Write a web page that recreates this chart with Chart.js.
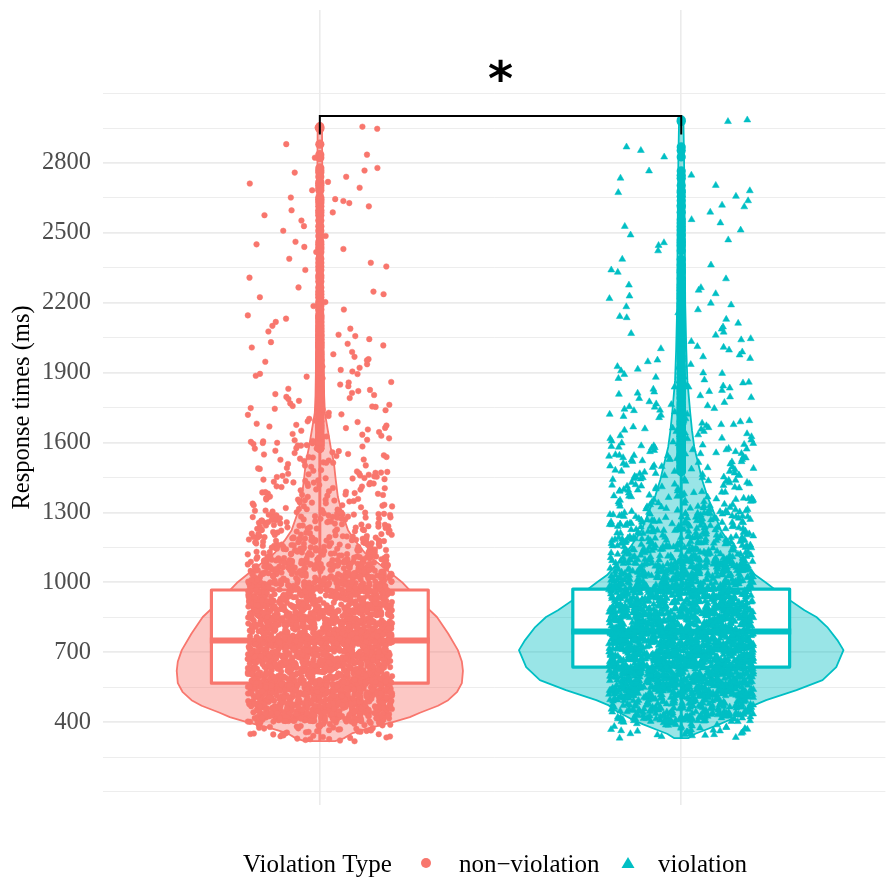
<!DOCTYPE html>
<html>
<head>
<meta charset="utf-8">
<title>Response times by violation type</title>
<script src="https://cdn.jsdelivr.net/npm/chart.js@4.4.1/dist/chart.umd.min.js"></script>
<style>
  html, body { margin: 0; padding: 0; background: #fff; }
  canvas { display: block; }
</style>
</head>
<body>
<canvas id="rtChart" width="890" height="879"></canvas>
<script>
// Categories and colours
const groupNames = ["non\u2212violation", "violation"];
const groupColors = ["#F8766D", "#00BFC4"];
const legendTitle = "Violation Type";

// Y axis labels (ms)
const yTickLabels = [400, 700, 1000, 1300, 1600, 1900, 2200, 2500, 2800];

// Response times (ms), non-violation trials
const nonViolationRT = [
  318, 327, 341, 355, 362, 371, 384, 392, 336, 349, 377, 398, 323, 366, 381, 358, 345, 389, 332, 374, 396, 351, 368, 386, 339, 360, 379, 394, 347, 329, 365, 383, 356, 391, 372,
  321, 334, 343, 352, 359, 364, 369, 376, 380, 387, 393, 397, 326, 338, 348, 361, 373, 385, 390, 399,
  412, 447, 431, 486, 463, 405, 472, 439, 495, 421, 458, 481, 444, 467, 409, 453, 428, 490, 436, 476, 415, 462, 499, 442, 484, 425,
  455, 403, 470, 433, 488, 449, 418, 479, 460, 437, 494, 411, 466, 441, 483, 426, 457, 407, 474, 491, 434, 468, 419, 452, 486, 446,
  478, 413, 461, 438, 497, 429, 471, 450, 404, 485, 443, 465, 422, 489, 456, 432, 475, 410, 448, 493, 427, 464, 440, 482, 416, 459,
  435, 477, 401, 469, 445, 496, 424, 454, 487, 430, 473, 408, 451, 492, 417, 463, 439, 480, 406, 457, 434, 498, 421, 468, 445, 476,
  414, 453, 487, 428, 466, 402, 441, 479, 458, 433, 495, 420, 462, 474, 447, 411, 489, 436, 470, 455, 425, 484, 443, 418, 461, 493,
  404, 419, 437, 452, 468, 483, 499, 411, 426, 444, 459, 475, 490, 407, 422, 440, 455, 471, 486, 414, 429, 447, 462, 478, 493, 401,
  417, 433, 449, 465, 481, 496, 409, 424, 439, 457, 473, 488, 403, 418, 435, 451, 467, 482, 498, 412, 427, 443, 458, 474, 489, 405,
  421, 436, 453, 469, 484, 400, 416, 431, 446, 461, 477, 492, 408, 423, 438, 454, 470, 485, 402, 419, 434, 450, 466, 480, 495, 410,
  425, 441, 456, 472, 487, 406, 420, 437, 448, 463, 479, 494, 413, 428, 442, 459, 476, 491, 404, 415, 432, 447, 464, 481, 497, 409,
  426, 439, 455, 468, 483, 499, 411, 424, 440, 457, 471, 486, 402, 418, 433, 451, 465, 480, 494, 407, 422, 436, 449, 462, 478, 490,
  414, 430, 445, 460, 475, 488, 405, 420, 435, 452,
  416, 483, 437, 462, 405, 491, 428, 455, 472, 443, 419, 497, 433, 468, 410, 486, 451, 424, 479, 440, 463, 402, 495, 431, 457, 474, 447, 414, 488, 421,
  466, 438, 493, 406, 459, 476, 427, 449, 481, 412, 470, 435, 498, 453, 418, 484, 442, 461, 425, 490, 408, 477, 445, 467, 430, 494, 415, 458, 473, 439,
  512, 547, 583, 531, 566, 504, 592, 525, 558, 539, 576, 517, 595, 543, 569, 521, 586, 553, 508, 574, 537, 599, 562, 529, 581, 546, 513, 590, 557, 535,
  578, 503, 564, 541, 597, 526, 552, 584, 518, 571, 549, 509, 588, 533, 560, 545, 579, 515, 594, 538, 567, 522, 555, 586, 501, 573, 548, 530, 592, 564,
  527, 563, 598, 511, 544, 577, 535, 556, 519, 589, 542, 506, 570, 551, 583, 596, 534, 559, 523, 582, 547, 514, 575, 539, 561, 502, 587, 528, 553, 568,
  540, 572, 507, 591, 555, 524, 580, 536, 565, 516, 599, 549, 531, 576, 510, 584, 520, 558, 543, 593, 505, 569, 537, 552, 578, 526, 590, 545, 517, 563,
  550, 587, 532, 566, 500, 579, 541, 557, 521, 595, 535, 571, 513, 548, 582, 529, 560, 594, 518, 546, 574, 504, 561, 539, 589, 525, 554, 577, 533, 597,
  506, 523, 541, 558, 575, 592, 511, 529, 546, 563, 580, 597, 503, 520, 537, 554, 571, 588, 514, 531, 549, 566, 583, 500, 517, 534, 552, 569, 586, 509,
  526, 543, 560, 577, 594, 505, 522, 540, 557, 574, 591, 512, 528, 545, 562, 579, 596, 502, 519, 536, 553, 570, 587, 508, 525, 542, 559, 576, 593, 515,
  532, 548, 565, 582, 599, 504, 521, 538, 555, 572, 589, 510, 527, 544, 561, 578, 595, 501, 518, 535, 551, 568, 585, 507, 524, 541, 558, 574, 591, 513,
  530, 547, 564, 581, 598, 503, 520, 537, 553, 570, 587, 509, 526, 543, 560, 577, 594, 505, 522, 539, 556, 573, 590, 511, 528, 545, 562, 579, 596, 502,
  519, 536, 552, 569, 586, 508, 525, 542, 559, 575, 592, 514, 531, 548, 565, 582, 599, 504, 521, 538, 554, 571, 588, 510, 527, 544, 561, 578, 595, 500,
  517, 534, 551, 568, 585, 506, 523, 540, 557, 574,
  517, 584, 538, 563, 506, 592, 529, 556, 573, 544, 520, 598, 534, 569, 511, 587, 552, 525, 580, 541, 564, 503, 596, 532, 558, 575, 548, 515, 589, 522,
  567, 539, 594, 507, 560, 577, 528, 550, 582, 513, 571, 536, 599, 554, 519, 585, 543, 562, 526, 591, 509, 578, 546, 568, 531, 595, 516, 559, 574, 540,
  502, 588, 535, 566, 524, 581, 549, 512, 597, 557, 530, 572, 545, 505, 590, 561, 537, 583, 518, 553,
  613, 648, 685, 632, 669, 605, 694, 627, 659, 641, 677, 618, 697, 644, 671, 622, 688, 655, 609, 676, 638, 699, 663, 630, 683, 647, 614, 692, 658, 636,
  679, 604, 666, 642, 698, 628, 653, 686, 619, 672, 650, 610, 689, 634, 662, 646, 681, 616, 695, 639, 668, 623, 656, 687, 602, 674, 649, 631, 693, 665,
  628, 664, 699, 612, 645, 678, 636, 657, 620, 690, 643, 607, 671, 652, 684, 697, 635, 660, 624, 683, 648, 615, 676, 640, 662, 603, 688, 629, 654, 669,
  641, 673, 608, 692, 656, 625, 681, 637, 666, 617, 700, 650, 632, 677, 611, 685, 621, 659, 644, 694, 606, 670, 638, 653, 679, 627, 691, 646, 618, 664,
  651, 688, 633, 667, 601, 680, 642, 658, 622, 696, 636, 672, 614, 649, 683, 630, 661, 695, 619, 647, 675, 605, 663, 640, 690, 626, 655, 678, 634, 698,
  603, 619, 636, 654, 671, 688, 608, 625, 642, 659, 676, 693, 601, 617, 634, 651, 668, 685, 612, 629, 646, 663, 680, 697, 605, 622, 639, 656, 673, 690,
  610, 627, 644, 661, 678, 695, 602, 618, 635, 652, 669, 686, 607, 624, 641, 658, 675, 692, 614, 631, 648, 665, 682, 699, 604, 620, 637, 653, 670, 687,
  609, 626, 643, 660, 677, 694, 600, 616, 633, 650, 667, 684, 611, 628, 645, 662, 679, 696, 606, 623, 640, 657, 674, 691, 613, 630, 647, 664, 681, 698,
  603, 619, 636, 652, 669, 686, 608, 625, 642, 659, 676, 693, 601, 618, 635, 651, 668, 685, 612, 629, 646, 663, 680, 697, 605, 621, 638, 655, 672, 689,
  610, 627, 644, 661, 678, 695, 602, 617, 634, 650, 667, 684, 607, 624, 641, 658, 675, 692, 614, 631, 648, 664, 681, 698, 604, 620, 637, 654, 671, 688,
  609, 626, 643, 660, 677, 694, 600, 616, 633, 649,
  618, 685, 639, 664, 607, 693, 630, 657, 674, 645, 621, 699, 635, 670, 612, 688, 653, 626, 681, 642, 665, 604, 697, 633, 659, 676, 649, 616, 690, 623,
  668, 640, 695, 608, 661, 678, 629, 651, 683, 614, 672, 637, 700, 655, 620, 686, 644, 663, 627, 692, 610, 679, 647, 669, 632, 696, 617, 660, 675, 641,
  603, 689, 636, 667, 625, 682, 650, 613, 698, 658, 631, 673, 646, 606, 691, 662, 638, 684, 619, 654,
  714, 749, 786, 733, 770, 706, 795, 728, 760, 742, 778, 719, 798, 745, 772, 723, 789, 756, 710, 777, 739, 800, 764, 731, 784, 748, 715, 793, 759, 737,
  780, 705, 767, 743, 799, 729, 754, 787, 720, 773, 751, 711, 790, 735, 763, 747, 782, 717, 796, 740, 769, 724, 757, 788, 703, 775, 750, 732, 794, 766,
  729, 765, 701, 713, 746, 779, 737, 758, 721, 791, 744, 708, 772, 753, 785, 798, 736, 761, 725, 784, 749, 716, 777, 741, 763, 704, 789, 730, 755, 770,
  742, 774, 709, 793, 757, 726, 782, 738, 767, 718, 797, 751, 733, 778, 712, 786, 722, 760, 745, 795, 707, 771, 739, 754, 780, 728, 792, 747, 719, 765,
  752, 789, 734, 768, 702, 781, 743, 759, 723, 797, 737, 773, 715, 750, 784, 731, 762, 796, 720, 748,
  702, 718, 735, 752, 769, 786, 707, 724, 741, 758, 775, 792, 700, 716, 733, 750, 767, 784, 711, 728, 745, 762, 779, 796, 704, 721, 738, 755, 772, 789,
  709, 726, 743, 760, 777, 794, 701, 717, 734, 751, 768, 785, 706, 723, 740, 757, 774, 791, 713, 730, 747, 764, 781, 798, 703, 719, 736, 753, 770, 787,
  708, 725, 742, 759, 776, 793, 700, 715, 732, 749, 766, 783, 710, 727, 744, 761, 778, 795, 705, 722, 739, 756, 773, 790, 712, 729, 746, 763, 780, 797,
  702, 718, 735, 751, 768, 785, 707, 724, 741, 758, 775, 792, 701, 717, 734, 750, 767, 784, 711, 728, 745, 762, 779, 796, 704, 720, 737, 754, 771, 788,
  709, 726, 743, 760, 777, 794, 703, 716, 733, 749, 766, 783, 706, 723, 740, 757, 774, 791, 713, 730,
  719, 786, 740, 765, 708, 794, 731, 758, 775, 746, 722, 800, 736, 771, 713, 789, 754, 727, 782, 743, 766, 705, 798, 734, 760, 777, 750, 717, 791, 724,
  769, 741, 796, 709, 762, 779, 730, 752, 784, 715, 773, 738, 701, 756, 721, 787, 745, 764, 728, 793, 711, 780, 748, 770, 733, 797, 718, 761, 776, 742,
  704, 790, 737, 768, 726, 783, 751, 714, 799, 759, 732, 774, 747, 707, 792,
  812, 847, 884, 831, 868, 804, 893, 826, 858, 840, 876, 817, 896, 843, 870, 821, 887, 854, 808, 875, 837, 899, 862, 829, 882, 846, 813, 891, 857, 835,
  878, 803, 865, 841, 897, 827, 852, 885, 818, 871, 849, 809, 888, 833, 861, 845, 880, 815, 894, 838, 867, 822, 855, 886, 801, 873, 848, 830, 892, 864,
  827, 863, 898, 811, 844, 877, 835, 856, 819, 889, 842, 806, 870, 851, 883, 896, 834, 859, 823, 882, 847, 814, 875, 839, 861, 802, 887, 828, 853, 868,
  840, 872, 807, 891, 855, 824, 880, 836, 865, 816, 895, 849, 831, 876, 810, 884, 820, 858, 843, 893, 805, 869, 837, 852, 878, 826, 890, 845, 817, 863,
  850, 887, 832, 866, 800, 879, 841, 857, 821, 895,
  804, 821, 838, 855, 872, 889, 809, 826, 843, 860, 877, 894, 801, 818, 835, 852, 869, 886, 812, 829, 846, 863, 880, 897, 806, 823, 840, 857, 874, 891,
  811, 828, 845, 862, 879, 896, 803, 819, 836, 853, 870, 887, 808, 825, 842, 859, 876, 893, 815, 832, 849, 866, 883, 900, 805, 820, 837, 854, 871, 888,
  810, 827, 844, 861, 878, 895, 802, 817, 834, 851, 868, 885, 813, 830, 847, 864, 881, 898, 807, 824, 841, 858, 875, 892, 814, 831, 848, 865, 882, 899,
  804, 820, 837, 853, 870, 887, 809, 826, 843, 860, 877, 894, 803, 819, 836, 852, 869, 886, 812, 829, 846, 863, 880, 897, 806, 822, 839, 856, 873, 890,
  811, 828, 845, 862, 879, 896, 805, 818, 835, 851, 868, 885, 808, 825, 842,
  820, 887, 841, 866, 809, 895, 832, 859, 876, 847, 823, 900, 837, 872, 814, 890, 855, 828, 883, 844, 867, 806, 898, 835, 861, 878, 851, 818, 892, 825,
  870, 842, 897, 810, 863, 880, 831, 853, 885, 816, 874, 839, 802, 857, 822, 888, 846, 865, 829, 894, 812, 881, 849, 871, 834, 899, 819, 862, 877, 843,
  805, 891, 838, 869, 827,
  913, 948, 985, 932, 969, 905, 994, 927, 959, 941, 977, 918, 997, 944, 971, 922, 988, 955, 909, 976, 938, 999, 963, 930, 983, 947, 914, 992, 958, 936,
  979, 904, 966, 942, 998, 928, 953, 986, 919, 972, 950, 910, 989, 934, 962, 946, 981, 916, 995, 939, 968, 923, 956, 987, 902, 974, 949, 931, 993, 965,
  928, 964, 999, 912, 945, 978, 936, 957, 920, 990, 943, 907, 971, 952, 984, 997, 935, 960, 924, 983, 948, 915, 976, 940, 962, 903, 988, 929, 954, 969,
  941, 973, 908, 992, 956, 925, 981, 937, 966, 917, 996, 950, 932, 977, 911, 985, 921, 959, 944, 994, 906, 970, 938, 953, 979,
  903, 920, 937, 954, 971, 988, 908, 925, 942, 959, 976, 993, 901, 917, 934, 951, 968, 985, 912, 929, 946, 963, 980, 997, 905, 922, 939, 956, 973, 990,
  910, 927, 944, 961, 978, 995, 902, 918, 935, 952, 969, 986, 907, 924, 941, 958, 975, 992, 914, 931, 948, 965, 982, 999, 904, 919, 936, 953, 970, 987,
  909, 926, 943, 960, 977, 994, 900, 916, 933, 950, 967, 984, 911, 928, 945, 962, 979, 996, 906, 923, 940, 957, 974, 991, 913, 930, 947, 964, 981, 998,
  903, 921, 938, 955, 972, 989, 908, 925, 942, 959, 976, 993, 901, 915, 932, 949, 966, 983, 912, 929, 946, 963, 980, 997, 905,
  921, 988, 942, 967, 910, 996, 933, 960, 977, 948, 924, 1000, 938, 973, 915, 991, 956, 929, 984, 945, 968, 907, 999, 936, 962, 979, 952, 919, 993, 926,
  971, 943, 998, 911, 964, 981, 932, 954, 986, 917, 975, 940, 903, 958, 923, 989, 947, 966, 930, 995,
  1012, 1047, 1084, 1031, 1068, 1004, 1093, 1026, 1058, 1040, 1076, 1017, 1096, 1043, 1070, 1021, 1087, 1054, 1008, 1075, 1037, 1099, 1062, 1029, 1082,
  1046, 1013, 1091, 1057, 1035, 1078, 1003, 1065, 1041, 1097, 1027, 1052, 1085, 1018, 1071, 1049, 1009, 1088, 1033, 1061, 1045, 1080, 1015, 1094, 1038,
  1067, 1022, 1055, 1086, 1001, 1073, 1048, 1030, 1092, 1064, 1027, 1063, 1098, 1011, 1044, 1077, 1035, 1056, 1019, 1089, 1042, 1006, 1070, 1051, 1083,
  1096, 1034, 1059, 1023, 1082, 1047, 1014, 1075, 1039, 1061, 1002, 1087, 1028, 1053, 1068, 1040, 1072, 1007, 1091, 1055, 1024, 1080, 1036, 1066, 1016,
  1003, 1020, 1037, 1054, 1071, 1088, 1008, 1025, 1042, 1059, 1076, 1093, 1001, 1017, 1034, 1051, 1068, 1085, 1012, 1029, 1046, 1063, 1080, 1097, 1005,
  1022, 1039, 1056, 1073, 1090, 1010, 1027, 1044, 1061, 1078, 1095, 1002, 1018, 1035, 1052, 1069, 1086, 1007, 1024, 1041, 1058, 1075, 1092, 1014, 1031,
  1048, 1065, 1082, 1099, 1004, 1019, 1036, 1053, 1070, 1087, 1009, 1026, 1043, 1060, 1077, 1094, 1000, 1016, 1033, 1050, 1067, 1084, 1011, 1028, 1045,
  1062, 1079, 1096, 1006, 1023,
  1022, 1089, 1043, 1068, 1011, 1097, 1034, 1061, 1078, 1049, 1025, 1100, 1039, 1074, 1016, 1092, 1057, 1030, 1085, 1046, 1069, 1008, 1099, 1037, 1063,
  1080, 1053, 1020, 1094, 1027,
  1114, 1152, 1187, 1133, 1169, 1106, 1195, 1128, 1161, 1143, 1178, 1119, 1198, 1146, 1172, 1123, 1189, 1155, 1110, 1176, 1139, 1101, 1164, 1131, 1183,
  1148, 1115, 1192, 1158, 1136, 1180, 1105, 1167, 1142, 1197, 1127, 1153, 1186, 1120, 1173, 1150, 1111, 1190, 1134, 1162, 1145, 1181, 1117, 1194, 1138,
  1168, 1124, 1157, 1188, 1103, 1175, 1149, 1130, 1193, 1165, 1126, 1163, 1199, 1112, 1144, 1179, 1137, 1156, 1121, 1191, 1141, 1108, 1171, 1151, 1184,
  1104, 1121, 1138, 1155, 1172, 1189, 1109, 1126, 1143, 1160, 1177, 1194, 1102, 1118, 1135, 1152, 1169, 1186, 1113, 1130, 1147, 1164, 1181, 1198, 1106,
  1123, 1140, 1157, 1174, 1191, 1111, 1128, 1145, 1162, 1179, 1196, 1103, 1119, 1136, 1153, 1170, 1187, 1108, 1125, 1142, 1159, 1176, 1193, 1115, 1132,
  1216, 1253, 1288, 1231, 1270, 1207, 1294, 1227, 1262, 1244, 1279, 1218, 1297, 1241, 1273, 1222, 1284, 1256, 1209, 1277, 1236, 1299, 1265, 1230, 1282,
  1249, 1214, 1291, 1259, 1235, 1281, 1204, 1268, 1243, 1296, 1225, 1252, 1287, 1219, 1274, 1247, 1211, 1289, 1233, 1263, 1246, 1280, 1213, 1293, 1238,
  1267, 1224, 1258, 1285, 1202,
  1205, 1222, 1239, 1256, 1273, 1290, 1210, 1227, 1244, 1261, 1278, 1295, 1203, 1219, 1236, 1253, 1270, 1287, 1214, 1231, 1248, 1265, 1282, 1299, 1207,
  1224, 1241, 1258, 1275, 1292,
  1312, 1389, 1347, 1421, 1306, 1372, 1438, 1331, 1405, 1358, 1319, 1446, 1383, 1342, 1414, 1367, 1301, 1429, 1354, 1395, 1326, 1441, 1377, 1310, 1418,
  1349, 1386, 1333, 1432, 1361, 1304, 1409, 1375, 1339, 1448, 1322, 1398, 1356, 1427, 1315, 1381, 1344, 1412, 1368, 1435, 1308, 1391, 1352, 1424, 1329,
  1303, 1327, 1351, 1376, 1399, 1424, 1447, 1314, 1338, 1362, 1387, 1411, 1436, 1307, 1331, 1355, 1380, 1404, 1428, 1443,
  1462, 1531, 1587, 1496, 1455, 1558, 1513, 1479, 1594, 1542, 1468, 1521, 1576, 1487, 1453, 1549, 1508, 1583, 1471, 1536, 1597, 1459, 1502, 1565, 1491,
  1527, 1574, 1466, 1545, 1515, 1589, 1482, 1555, 1474, 1523, 1598, 1457, 1538,
  1452, 1476, 1501, 1526, 1551, 1575, 1599, 1464, 1489, 1513, 1538, 1563, 1587, 1470,
  1612, 1681, 1645, 1728, 1607, 1663, 1739, 1624, 1702, 1656, 1618, 1745, 1688, 1637, 1714, 1669, 1603, 1721, 1651, 1694, 1629, 1742, 1676, 1610, 1707,
  1605, 1634, 1662, 1691, 1719, 1748, 1626, 1673,
  1762, 1831, 1887, 1796, 1755, 1858, 1813, 1779, 1894, 1842, 1768, 1821, 1876, 1787, 1753, 1849, 1808, 1883,
  1757, 1791, 1826, 1860, 1895, 1804,
  1912, 1968, 2031, 1947, 2008, 1926, 1989, 2044, 1905, 1958, 2017, 1936, 1921, 1979, 2024, 1953,
  2063, 2118, 2171, 2089, 2146, 2057, 2132, 2194, 2101, 2077, 2139, 2186,
  2224, 2291, 2356, 2248, 2317, 2389, 2266, 2203, 2341, 2237, 2308, 2372,
  2418, 2487, 2553, 2431, 2509, 2576, 2462, 2597, 2440, 2451, 2529, 2588,
  2614, 2683, 2741, 2628, 2705, 2768, 2652, 2719, 2637, 2694, 2759, 2645, 2712, 2779,
  2823, 2952, 2947, 2956, 2881, 2836
];

// Response times (ms), violation trials
const violationRT = [
  331, 338, 345, 372, 358, 391, 349, 383, 366, 397, 352, 377, 361, 388, 343, 369, 394, 356, 380, 347, 374, 399, 363, 386,
  334, 341, 350, 357, 362, 368, 375, 381, 387, 393, 346, 365, 378, 389, 396,
  408, 436, 471, 423, 457, 492, 415, 449, 482, 431, 466, 403, 444, 478, 427, 461, 497, 419, 453, 488, 434, 469, 411, 446, 480, 425,
  459, 494, 438, 473, 406, 451, 485, 429, 464, 417, 441, 476, 499, 432, 456, 413, 468, 490, 422, 447, 483, 405, 462, 437, 475, 418,
  454, 496, 428, 470, 443, 409, 487, 450, 474, 414, 458, 491, 435, 467, 420, 445, 479, 402, 463, 486, 426, 452, 498, 439, 472, 416, 460, 484,
  405, 422, 439, 456, 473, 490, 410, 427, 444, 461, 478, 495, 402, 419, 436, 453, 470, 487, 413, 430, 447, 464, 481, 498, 407, 424,
  441, 458, 475, 492, 412, 429, 446, 463, 480, 497, 404, 420, 437, 454, 471, 488, 409, 426, 443, 460, 477, 494, 416, 433, 450, 467,
  484, 401, 418, 435, 452, 469, 486, 406, 423, 440, 457, 474, 491, 411, 428, 445, 462, 479, 496, 403, 421, 438, 455, 472, 489, 408,
  425, 442, 459, 476, 493, 414, 431, 448, 465, 482, 499, 415,
  417, 484, 438, 463, 406, 492, 429, 456, 473, 444, 420, 498, 434, 469, 411, 487, 452, 425, 480, 441, 464, 403, 496, 432, 458, 475, 448, 415, 489, 422,
  467, 439, 494, 407, 460,
  503, 538, 571, 526, 559, 594, 514, 547, 582, 531, 565, 508, 543, 578, 521, 561, 597, 519, 552, 588, 534, 569, 511, 546, 580, 525, 558, 593, 537, 573,
  506, 550, 585, 529, 564, 517, 541, 576, 599, 532, 556, 513, 568, 590, 522, 548, 583, 505, 562, 536, 575, 518, 554, 596, 528, 570, 544, 509, 587, 551,
  574, 515, 557, 591, 535, 567, 520, 545, 579, 502, 563, 586, 527, 553, 598, 539, 572, 516, 560, 584, 533, 566, 510, 549, 581, 524, 555, 592, 540, 577,
  507, 542, 589, 530, 567, 512, 558, 595, 523, 561, 504, 547, 583, 536, 571, 519, 552, 587, 530, 564, 501, 545, 579, 526, 557, 593, 514, 550, 585, 538,
  572, 509, 543, 580, 521, 555, 590, 534, 568, 516, 548, 584, 527, 561, 597, 506, 540, 575, 529, 563,
  509, 526, 544, 561, 578, 595, 514, 532, 549, 566, 583, 500, 506, 523, 540, 557, 574, 591, 517, 534, 552, 569, 586, 503, 520, 537, 555, 572, 589, 512,
  529, 546, 563, 580, 597, 508, 525, 543, 560, 577, 594, 515, 531, 548, 565, 582, 599, 505, 522, 539, 556, 573, 590, 511, 528, 545, 562, 579, 596, 518,
  535, 551, 568, 585, 502, 507, 524, 541, 558, 575, 592, 513, 530, 547, 564, 581, 598, 504, 521, 538, 554, 571, 588, 510, 527, 544, 561, 577, 594, 516,
  533, 550, 567, 584, 501, 506, 523, 540, 556, 573, 590, 512, 529, 546, 563, 580, 597, 508, 525, 542, 559, 576, 593, 514, 531, 548, 565, 582, 599, 505,
  522, 539, 555, 572, 589, 511, 528, 545, 562, 578, 595, 517, 534, 551, 568, 585, 502, 507, 524, 541, 557, 574, 591, 513, 530,
  518, 585, 539, 564, 507, 593, 530, 557, 574, 545, 521, 599, 535, 570, 512, 588, 553, 526, 581, 542, 565, 504, 597, 533, 559, 576, 549, 516, 590, 523,
  568, 540, 595, 508, 561, 578, 529, 551, 583, 514, 572, 537, 600, 555, 520, 586, 544, 563, 527, 592, 510, 579, 547, 569, 532, 596, 517, 560, 575, 541,
  503, 589, 536, 567, 525, 582, 550, 513, 598, 558,
  604, 637, 672, 625, 658, 693, 613, 646, 681, 630, 664, 607, 642, 677, 620, 660, 696, 618, 651, 687, 633, 668, 610, 645, 679, 624, 657, 692, 636, 674,
  605, 649, 684, 628, 663, 616, 640, 675, 698, 631, 655, 612, 667, 689, 621, 647, 682, 606, 661, 635, 676, 617, 653, 695, 627, 669, 643, 608, 686, 650,
  673, 614, 656, 690, 634, 666, 619, 644, 678, 601, 662, 685, 626, 652, 697, 638, 671, 615, 659, 683, 632, 665, 609, 648, 680, 623, 654, 691, 639, 676,
  603, 641, 688, 629, 667, 611, 657, 694, 622, 660, 605, 646, 682, 635, 670, 618, 651, 686, 629, 663, 602, 644, 678, 625, 656, 692, 613, 649, 684, 637,
  671, 608, 642, 679, 620, 654, 689, 633, 667, 615, 647, 683, 626, 660, 696, 607, 639, 674, 628, 662, 699, 617, 650, 685, 631, 665, 610, 645, 680, 624,
  606, 622, 639, 657, 674, 691, 611, 628, 645, 662, 679, 696, 604, 620, 637, 654, 671, 688, 615, 632, 649, 666, 683, 600, 608, 625, 642, 659, 676, 693,
  613, 630, 647, 664, 681, 698, 605, 621, 638, 655, 672, 689, 610, 627, 644, 661, 678, 695, 617, 634, 651, 668, 685, 602, 607, 623, 640, 656, 673, 690,
  612, 629, 646, 663, 680, 697, 603, 619, 636, 653, 670, 687, 614, 631, 648, 665, 682, 699, 609, 626, 643, 660, 677, 694, 616, 633, 650, 667, 684, 601,
  606, 622, 639, 655, 672, 689, 611, 628, 645, 662, 679, 696, 604, 621, 638, 654, 671, 688, 615, 632, 649, 666, 683, 600, 608, 624, 641, 658, 675, 692,
  613, 630, 647, 664, 681, 698, 605, 620, 637, 653, 670, 687, 610, 627, 644, 661, 678, 695, 617, 634, 651, 667, 684, 601, 607, 623, 640, 657, 674, 691,
  612, 629, 646, 663, 680, 697, 603, 619, 636, 652, 669, 686, 614, 631, 648, 665, 682, 699, 609, 626,
  619, 686, 640, 665, 608, 694, 631, 658, 675, 646, 622, 700, 636, 671, 613, 689, 654, 627, 682, 643, 666, 605, 698, 634, 660, 677, 650, 617, 691, 624,
  669, 641, 696, 609, 662, 679, 630, 652, 684, 615, 673, 638, 601, 656, 621, 687, 645, 664, 628, 693, 611, 680, 648, 670, 633, 697, 618, 661, 676, 642,
  604, 690, 637, 668, 626, 683, 651, 614, 699, 659, 632, 674, 647, 607, 692, 663, 639, 685, 620, 655, 603, 672, 644, 688, 625,
  705, 738, 773, 726, 759, 794, 714, 747, 782, 731, 765, 708, 743, 778, 721, 761, 797, 719, 752, 788, 734, 769, 711, 746, 780, 725, 758, 793, 737, 775,
  706, 750, 785, 729, 764, 717, 741, 776, 799, 732, 756, 713, 768, 790, 722, 748, 783, 707, 762, 736, 777, 718, 754, 796, 728, 770, 744, 709, 787, 751,
  774, 715, 757, 791, 735, 767, 720, 745, 779, 702, 763, 786, 727, 753, 798, 739, 772, 716, 760, 784, 733, 766, 710, 749, 781, 724, 755, 792, 740, 777,
  704, 742, 789, 730, 768, 712, 758, 795, 723, 761, 706, 747, 783, 736, 771, 719, 752, 787, 730, 764, 703, 745, 779, 726, 757, 793, 714, 750, 785, 738,
  772, 709, 743, 780, 721, 755, 790, 734, 768, 716, 748, 784, 727, 761, 797, 708, 740, 775, 729, 763, 800, 718, 751, 786, 732, 766, 711, 746, 781, 725,
  705, 721, 738, 755, 772, 789, 710, 727, 744, 761, 778, 795, 703, 719, 736, 753, 770, 787, 714, 731, 748, 765, 782, 799, 707, 724, 741, 758, 775, 792,
  712, 729, 746, 763, 780, 797, 704, 720, 737, 754, 771, 788, 709, 726, 743, 760, 777, 794, 716, 733, 750, 767, 784, 701, 706, 722, 739, 756, 773, 790,
  711, 728, 745, 762, 779, 796, 702, 718, 735, 752, 769, 786, 713, 730, 747, 764, 781, 798, 708, 725, 742, 759, 776, 793, 715, 732, 749, 766, 783, 800,
  705, 721, 738, 754, 771, 788, 710, 727, 744, 761, 778, 795, 704, 720, 737, 753, 770, 787, 714, 731, 748, 765, 782, 799, 707, 723, 740, 757, 774, 791,
  712, 729, 746, 763, 780, 797, 706, 719, 736, 752, 769, 786, 709, 726, 743, 760, 777, 794, 716, 733, 750, 766, 783, 700, 706, 722, 739, 756, 773, 790,
  711, 728, 745, 762, 779, 796, 702, 718, 735, 751, 768, 785, 713, 730, 747, 764, 781, 798, 708, 725,
  720, 787, 741, 766, 709, 795, 732, 759, 776, 747, 723, 701, 737, 772, 714, 790, 755, 728, 783, 744, 767, 706, 799, 735, 761, 778, 751, 718, 792, 725,
  770, 742, 797, 710, 763, 780, 731, 753, 785, 716, 774, 739, 702, 757, 722, 788, 746, 765, 729, 794, 712, 781, 749, 771, 734, 798, 719, 762, 777, 743,
  705, 791, 738, 769, 727, 784, 752, 715, 800, 760, 733, 775, 748, 708, 793, 764, 740, 786, 721, 756, 704, 773, 745, 789, 726,
  806, 839, 874, 827, 860, 895, 815, 848, 883, 832, 866, 809, 844, 879, 822, 862, 898, 820, 853, 889, 835, 870, 812, 847, 881, 826, 859, 894, 838, 876,
  807, 851, 886, 830, 865, 818, 842, 877, 900, 833, 857, 814, 869, 891, 823, 849, 884, 808, 863, 837, 878, 819, 855, 897, 829, 871, 845, 810, 888, 852,
  875, 816, 858, 892, 836, 868, 821, 846, 880, 803, 864, 887, 828, 854, 899, 840, 873, 817, 861, 885, 834, 867, 811, 850, 882, 825, 856, 893, 841, 878,
  805, 843, 890, 831, 869, 813, 859, 896, 824, 862, 807, 848, 884, 837, 872, 820, 853, 888, 831, 865, 804, 846, 880, 827, 858, 894, 815, 851, 886, 839,
  873, 810, 844, 881, 822, 856, 891, 835, 869, 817, 849, 885, 828, 862, 898,
  807, 824, 841, 858, 875, 892, 812, 829, 846, 863, 880, 897, 804, 821, 838, 855, 872, 889, 815, 832, 849, 866, 883, 900, 809, 826, 843, 860, 877, 894,
  814, 831, 848, 865, 882, 899, 806, 822, 839, 856, 873, 890, 811, 828, 845, 862, 879, 896, 818, 835, 852, 869, 886, 803, 808, 823, 840, 857, 874, 891,
  813, 830, 847, 864, 881, 898, 805, 820, 837, 854, 871, 888, 816, 833, 850, 867, 884, 801, 810, 827, 844, 861, 878, 895, 817, 834, 851, 868, 885, 802,
  807, 823, 840, 856, 873, 890, 812, 829, 846, 863, 880, 897, 806, 822, 839, 855, 872, 889, 815, 832, 849, 866, 883, 900, 809, 825, 842, 859, 876, 893,
  814, 831, 848, 865, 882, 899, 808, 821, 838, 854, 871, 888, 811, 828, 845, 862, 879, 896, 818, 835, 852, 868, 885, 802, 807,
  821, 888, 842, 867, 810, 896, 833, 860, 877, 848, 824, 802, 838, 873, 815, 891, 856, 829, 884, 845, 868, 807, 899, 836, 862, 879, 852, 819, 893, 826,
  871, 843, 898, 811, 864, 881, 832, 854, 886, 817, 875, 840, 803, 858, 823, 889, 847, 866, 830, 895, 813, 882, 850, 872, 835, 900, 820, 863, 878, 844,
  806, 892, 839, 870, 828, 885, 853, 816, 897, 861, 834, 876, 849, 809, 894,
  907, 940, 975, 928, 961, 996, 916, 949, 984, 933, 967, 910, 945, 980, 923, 963, 999, 921, 954, 990, 936, 971, 913, 948, 982, 927, 960, 995, 939, 977,
  908, 952, 987, 931, 966, 919, 943, 978, 1000, 934, 958, 915, 970, 992, 924, 950, 985, 909, 964, 938, 979, 920, 956, 998, 930, 972, 946, 911, 989, 953,
  976, 917, 959, 993, 937, 969, 922, 947, 981, 904, 965, 988, 929, 955, 997, 941, 974, 918, 962, 986, 935, 968, 912, 951, 983, 926, 957, 994, 942, 979,
  906, 944, 991, 932, 970, 914, 960, 997, 925, 963, 905, 949, 985, 938, 973, 921, 954, 989, 932, 966,
  906, 923, 940, 957, 974, 991, 911, 928, 945, 962, 979, 996, 904, 920, 937, 954, 971, 988, 915, 932, 949, 966, 983, 1000, 908, 925, 942, 959, 976, 993,
  913, 930, 947, 964, 981, 998, 905, 921, 938, 955, 972, 989, 910, 927, 944, 961, 978, 995, 917, 934, 951, 968, 985, 902, 907, 922, 939, 956, 973, 990,
  912, 929, 946, 963, 980, 997, 903, 919, 936, 953, 970, 987, 914, 931, 948, 965, 982, 999, 909, 926, 943, 960, 977, 994, 916, 933, 950, 967, 984, 901,
  906, 922, 939, 955, 972, 989, 911, 928, 945, 962, 979, 996, 905, 921, 938, 954, 971, 988, 915, 932, 949, 966, 983, 1000, 908, 924, 941, 958, 975, 992,
  913, 930, 947, 964, 981, 998, 907, 920, 937, 953,
  922, 989, 943, 968, 911, 997, 934, 961, 978, 949, 925, 903, 939, 974, 916, 992, 957, 930, 985, 946, 969, 908, 1000, 937, 963, 980, 953, 920, 994, 927,
  972, 944, 999, 912, 965, 982, 933, 955, 987, 918, 976, 941, 904, 959, 924, 990, 948, 967, 931, 996, 914, 983, 951, 973, 936, 998, 921, 964, 979, 945,
  1008, 1041, 1076, 1029, 1062, 1097, 1017, 1050, 1085, 1034, 1068, 1011, 1046, 1081, 1024, 1064, 1099, 1022, 1055, 1091, 1037, 1072, 1014, 1049, 1083,
  1028, 1061, 1096, 1040, 1078, 1009, 1053, 1088, 1032, 1067, 1020, 1044, 1079, 1001, 1035, 1059, 1016, 1071, 1093, 1025, 1051, 1086, 1010, 1065, 1039,
  1080, 1021, 1057, 1098, 1031, 1073, 1047, 1012, 1090, 1054, 1077, 1018, 1060, 1094, 1038, 1070, 1023, 1048, 1082, 1005, 1066, 1089, 1030, 1056, 1095,
  1042, 1075, 1019, 1063, 1087, 1036, 1069, 1013, 1052, 1084, 1027, 1058, 1092, 1043, 1079, 1007, 1045, 1092, 1033, 1071, 1015, 1061, 1098, 1026, 1064,
  1006, 1023, 1040, 1057, 1074, 1091, 1011, 1028, 1045, 1062, 1079, 1096, 1004, 1020, 1037, 1054, 1071, 1088, 1015, 1032, 1049, 1066, 1083, 1100, 1008,
  1025, 1042, 1059, 1076, 1093, 1013, 1030, 1047, 1064, 1081, 1098, 1005, 1021, 1038, 1055, 1072, 1089, 1010, 1027, 1044, 1061, 1078, 1095, 1017, 1034,
  1051, 1068, 1085, 1002, 1007, 1022, 1039, 1056, 1073, 1090, 1012, 1029, 1046, 1063, 1080, 1097, 1003, 1019, 1036, 1053, 1070, 1087, 1014, 1031, 1048,
  1065, 1082, 1099, 1009, 1026, 1043, 1060, 1077, 1094, 1016, 1033, 1050, 1067, 1084, 1001,
  1023, 1090, 1044, 1069, 1012, 1098, 1035, 1062, 1079, 1050, 1026, 1004, 1040, 1075, 1017, 1093, 1058, 1031, 1086, 1047, 1070, 1009, 1100, 1038, 1064,
  1081, 1054, 1021, 1095, 1028, 1073, 1045, 1097, 1013, 1066, 1083, 1034, 1056, 1088, 1019,
  1109, 1143, 1178, 1130, 1164, 1199, 1118, 1152, 1187, 1136, 1170, 1112, 1147, 1183, 1125, 1166, 1101, 1124, 1157, 1193, 1139, 1174, 1115, 1151, 1185,
  1129, 1163, 1198, 1142, 1180, 1110, 1155, 1190, 1133, 1169, 1121, 1146, 1181, 1103, 1137, 1161, 1117, 1173, 1195, 1126, 1153, 1188, 1111, 1167, 1141,
  1182, 1122, 1159, 1196, 1132, 1175, 1149, 1113, 1192, 1156, 1179, 1119, 1162, 1197, 1140, 1172, 1127, 1150, 1184, 1106, 1168, 1191, 1131, 1158, 1194,
  1144, 1177, 1120, 1165, 1189, 1138, 1171, 1114, 1154, 1186,
  1107, 1124, 1141, 1158, 1175, 1192, 1112, 1129, 1146, 1163, 1180, 1197, 1105, 1121, 1138, 1155, 1172, 1189, 1116, 1133, 1150, 1167, 1184, 1101, 1109,
  1126, 1143, 1160, 1177, 1194, 1114, 1131, 1148, 1165, 1182, 1199, 1106, 1122, 1139, 1156, 1173, 1190, 1111, 1128, 1145, 1162, 1179, 1196, 1118, 1135,
  1152, 1169, 1186, 1103, 1108, 1123, 1140, 1157, 1174, 1191,
  1210, 1244, 1279, 1231, 1265, 1298, 1219, 1253, 1288, 1237, 1271, 1213, 1248, 1284, 1226, 1267, 1202, 1225, 1258, 1294, 1240, 1275, 1216, 1252, 1286,
  1230, 1264, 1299, 1243, 1281, 1211, 1256, 1291, 1234, 1270, 1222, 1247, 1282, 1204, 1238, 1262, 1218, 1274, 1296, 1227, 1254, 1289, 1212, 1268, 1242,
  1283, 1223, 1260, 1297, 1233, 1276, 1250, 1214, 1293, 1257, 1280, 1220, 1263, 1295, 1241, 1273, 1228, 1251,
  1208, 1225, 1242, 1259, 1276, 1293, 1213, 1230, 1247, 1264, 1281, 1298, 1206, 1222, 1239, 1256, 1273, 1290, 1217, 1234, 1251, 1268, 1285, 1202, 1210,
  1227, 1244, 1261, 1278, 1295, 1215, 1232, 1249, 1266, 1283, 1300, 1207, 1223, 1240, 1257,
  1306, 1372, 1419, 1335, 1398, 1441, 1317, 1364, 1427, 1348, 1389, 1302, 1356, 1413, 1329, 1380, 1446, 1321, 1369, 1434, 1343, 1392, 1311, 1359, 1423,
  1337, 1385, 1449, 1352, 1405, 1309, 1376, 1438, 1341, 1395, 1325, 1362, 1416, 1304, 1350, 1401, 1319, 1383, 1443, 1333, 1367, 1429, 1313, 1379, 1346,
  1410, 1323, 1371, 1436, 1339, 1393, 1358, 1315, 1421, 1374, 1407, 1327, 1387, 1444, 1354,
  1303, 1324, 1345, 1366, 1387, 1408, 1429, 1449, 1312, 1333, 1354, 1375, 1396, 1417, 1438, 1307, 1328, 1349, 1370, 1391, 1412, 1433, 1318, 1361, 1402,
  1458, 1527, 1583, 1492, 1551, 1596, 1469, 1514, 1572, 1503, 1545, 1455, 1538, 1589, 1481, 1561, 1477, 1522, 1577, 1497, 1548, 1463, 1531, 1592, 1486,
  1556, 1473, 1519, 1580, 1508, 1541, 1452, 1534, 1586, 1489, 1566, 1466, 1517, 1575, 1499, 1553, 1476, 1525, 1598, 1484, 1543, 1461, 1529, 1569, 1495,
  1451, 1467, 1484, 1501, 1518, 1535, 1552, 1569, 1586, 1459, 1476, 1493, 1510, 1527, 1544, 1561, 1578, 1595,
  1607, 1672, 1731, 1638, 1694, 1616, 1659, 1743, 1625, 1683, 1648, 1712, 1604, 1667, 1726, 1641, 1698, 1619, 1677, 1739, 1633, 1689, 1653, 1721, 1611,
  1664, 1746, 1629, 1702, 1657, 1717, 1686, 1602, 1617, 1632, 1647, 1662, 1677, 1692, 1707, 1722, 1737,
  1758, 1824, 1881, 1793, 1847, 1766, 1812, 1869, 1785, 1838, 1892, 1772, 1829, 1856, 1801, 1763, 1875, 1819, 1843, 1789, 1897, 1752, 1834, 1864, 1807,
  1754, 1775, 1796, 1817, 1838, 1859, 1880, 1899,
  1908, 1976, 2034, 1947, 2012, 1923, 1989, 2046, 1935, 2003, 1961, 1915, 2025, 1954, 1997, 1926, 1968, 2009, 2041,
  2068, 2129, 2183, 2096, 2157, 2074, 2141, 2198, 2112, 2061, 2170, 2087, 2136, 2191,
  2218, 2276, 2341, 2239, 2303, 2387, 2254, 2362, 2229, 2265, 2331,
  2423, 2491, 2557, 2446, 2528, 2589, 2470, 2512, 2458, 2543,
  2612, 2681, 2735, 2638, 2704, 2766, 2657, 2619, 2673, 2748,
  2826, 2869, 2978, 2985, 2854
];

// Box statistics: lower whisker, Q1, median, Q3, upper whisker (ms)
const nonViolationBox = [318, 567, 750, 967, 1565];
const violationBox = [331, 636, 789, 971, 1475];

// Violin outlines: response time (ms) and half width (x-axis units)
const nonViolationViolinMs = [318, 330, 353, 375, 400, 421, 440, 470, 494, 530, 567, 620, 660, 709, 780, 851, 920, 997, 1050, 1126, 1180, 1224, 1300, 1366, 1440, 1512, 1580, 1654, 1727, 1800, 1900, 2100, 2300, 2500, 2700, 2956];
const nonViolationViolinHalf = [0.042, 0.066, 0.091, 0.139, 0.202, 0.249, 0.277, 0.327, 0.355, 0.380, 0.393, 0.396, 0.393, 0.382, 0.355, 0.324, 0.277, 0.230, 0.188, 0.125, 0.097, 0.078, 0.061, 0.050, 0.044, 0.039, 0.030, 0.022, 0.014, 0.012, 0.011, 0.010, 0.008, 0.008, 0.007, 0.006];
const violationViolinMs = [331, 350, 366, 390, 409, 451, 473, 494, 537, 580, 636, 709, 752, 808, 851, 880, 945, 1000, 1031, 1090, 1151, 1220, 1297, 1370, 1439, 1510, 1581, 1650, 1727, 1868, 2000, 2200, 2500, 2800, 2985];
const violationViolinHalf = [0.019, 0.039, 0.066, 0.105, 0.133, 0.183, 0.202, 0.235, 0.319, 0.391, 0.429, 0.449, 0.432, 0.404, 0.374, 0.341, 0.280, 0.233, 0.205, 0.172, 0.141, 0.111, 0.091, 0.072, 0.058, 0.047, 0.036, 0.030, 0.025, 0.017, 0.014, 0.011, 0.010, 0.008, 0.006];

// Significance bracket between the two groups
const bracketTop = 3002;
const bracketTip = 2922;
const bracketLabel = "*";
const bracketLabelY = 3205;

const JITTER = 0.2;
const BOX_HALF = 0.3;
const SERIF = "'Liberation Serif', 'Times New Roman', serif";

const groups = [
  { name: groupNames[0], color: groupColors[0], rt: nonViolationRT, box: nonViolationBox, vMs: nonViolationViolinMs, vHalf: nonViolationViolinHalf, shape: "circle" },
  { name: groupNames[1], color: groupColors[1], rt: violationRT, box: violationBox, vMs: violationViolinMs, vHalf: violationViolinHalf, shape: "triangle" }
];

function hexAlpha(hex, a) {
  const n = parseInt(hex.slice(1), 16);
  return `rgba(${(n >> 16) & 255}, ${(n >> 8) & 255}, ${n & 255}, ${a})`;
}

// horizontal jitter around the group centre (hashed from the point index)
function jitterOffset(i, seed) {
  const h = Math.sin((i + 1) * 12.9898 + seed * 78.233) * 43758.5453;
  const f = h - Math.floor(h);
  return (f - 0.5) * 2 * JITTER;
}

const jitterSets = groups.map((g, gi) => ({
  data: g.rt.map((v, i) => ({ x: gi + 1 + jitterOffset(i, gi + 1), y: v })),
  backgroundColor: g.color,
  borderColor: g.color,
  borderWidth: 0.5,
  pointStyle: g.shape,
  pointRadius: g.shape === "triangle" ? 4 : 2.8
}));

const outlierSets = groups.map((g, gi) => ({
  data: g.rt.filter(v => v > g.box[4] || v < g.box[0]).map(v => ({ x: gi + 1, y: v })),
  backgroundColor: g.color,
  borderColor: g.color,
  borderWidth: 0,
  pointStyle: "circle",
  pointRadius: 4.6
}));

const bracketSet = {
  showLine: true,
  data: [
    { x: 1, y: bracketTip }, { x: 1, y: bracketTop },
    { x: 2, y: bracketTop }, { x: 2, y: bracketTip }
  ],
  borderColor: "#000",
  borderWidth: 2,
  pointRadius: 0,
  fill: false,
  tension: 0
};

// violins and boxes go underneath the points
const violinBoxPlugin = {
  id: "violinBox",
  beforeDatasetsDraw(chart) {
    const { ctx, scales: { x, y }, chartArea } = chart;
    ctx.save();
    ctx.beginPath();
    ctx.rect(chartArea.left, chartArea.top, chartArea.right - chartArea.left, chartArea.bottom - chartArea.top);
    ctx.clip();
    groups.forEach((g, gi) => {
      const c = gi + 1;
      // violin
      ctx.beginPath();
      g.vMs.forEach((v, i) => {
        const px = x.getPixelForValue(c + g.vHalf[i]);
        const py = y.getPixelForValue(v);
        if (i === 0) ctx.moveTo(px, py); else ctx.lineTo(px, py);
      });
      for (let i = g.vMs.length - 1; i >= 0; i--) {
        ctx.lineTo(x.getPixelForValue(c - g.vHalf[i]), y.getPixelForValue(g.vMs[i]));
      }
      ctx.closePath();
      ctx.fillStyle = hexAlpha(g.color, 0.4);
      ctx.fill();
      ctx.lineWidth = 1.8;
      ctx.lineJoin = "round";
      ctx.strokeStyle = g.color;
      ctx.stroke();

      // whiskers
      const cx = x.getPixelForValue(c);
      ctx.lineWidth = 3;
      ctx.lineCap = "butt";
      ctx.beginPath();
      ctx.moveTo(cx, y.getPixelForValue(g.box[3]));
      ctx.lineTo(cx, y.getPixelForValue(g.box[4]));
      ctx.moveTo(cx, y.getPixelForValue(g.box[1]));
      ctx.lineTo(cx, y.getPixelForValue(g.box[0]));
      ctx.stroke();

      // box
      const bl = x.getPixelForValue(c - BOX_HALF);
      const br = x.getPixelForValue(c + BOX_HALF);
      const q1 = y.getPixelForValue(g.box[1]);
      const q3 = y.getPixelForValue(g.box[3]);
      ctx.fillStyle = "#fff";
      ctx.fillRect(bl, q3, br - bl, q1 - q3);
      ctx.lineWidth = 3.2;
      ctx.strokeRect(bl, q3, br - bl, q1 - q3);
      const med = y.getPixelForValue(g.box[2]);
      ctx.lineWidth = 6;
      ctx.beginPath();
      ctx.moveTo(bl - 1.6, med);
      ctx.lineTo(br + 1.6, med);
      ctx.stroke();
    });
    ctx.restore();
  },
  afterDatasetsDraw(chart) {
    const { ctx, scales: { x, y } } = chart;
    ctx.save();
    ctx.fillStyle = "#000";
    ctx.font = "bold 48px 'DejaVu Sans', sans-serif";
    ctx.textAlign = "center";
    ctx.textBaseline = "alphabetic";
    ctx.fillText(bracketLabel, x.getPixelForValue(1.5), y.getPixelForValue(bracketLabelY) + 26);
    ctx.restore();
  },
  afterDraw(chart) {
    // legend along the bottom
    const ctx = chart.ctx;
    const base = 872;
    const mid = 863;
    ctx.save();
    ctx.font = `25px ${SERIF}`;
    ctx.fillStyle = "#000";
    ctx.textAlign = "left";
    ctx.textBaseline = "alphabetic";
    ctx.fillText(legendTitle, 243, base);
    ctx.fillText(groupNames[0], 459, base);
    ctx.fillText(groupNames[1], 658, base);
    ctx.fillStyle = groupColors[0];
    ctx.beginPath();
    ctx.arc(426, mid, 5, 0, Math.PI * 2);
    ctx.fill();
    ctx.fillStyle = groupColors[1];
    ctx.beginPath();
    ctx.moveTo(628, mid - 6);
    ctx.lineTo(634.5, mid + 5);
    ctx.lineTo(621.5, mid + 5);
    ctx.closePath();
    ctx.fill();
    ctx.restore();
  }
};

const gridBreaks = [];
for (let v = 100; v <= 3100; v += 150) gridBreaks.push(v);

new Chart(document.getElementById("rtChart"), {
  type: "scatter",
  data: {
    datasets: [bracketSet, jitterSets[0], jitterSets[1], outlierSets[0], outlierSets[1]]
  },
  options: {
    responsive: false,
    animation: false,
    events: [],
    devicePixelRatio: 1,
    layout: { padding: { top: 10, bottom: 74, left: 0, right: 0 } },
    plugins: {
      legend: { display: false },
      tooltip: { enabled: false }
    },
    scales: {
      x: {
        type: "linear",
        min: 0.4,
        max: 2.565,
        afterBuildTicks: s => { s.ticks = [{ value: 1 }, { value: 2 }]; },
        afterFit: s => { s.height = 0; s.paddingLeft = 0; s.paddingRight = 0; },
        ticks: { display: false },
        grid: { color: "#EBEBEB", lineWidth: 1.6, drawTicks: false },
        border: { display: false }
      },
      y: {
        type: "linear",
        min: 44,
        max: 3457,
        afterBuildTicks: s => { s.ticks = gridBreaks.map(v => ({ value: v })); },
        afterFit: s => { s.width = 103; s.paddingTop = 0; s.paddingBottom = 0; },
        grid: {
          color: "#EBEBEB",
          lineWidth: c => (yTickLabels.includes(c.tick.value) ? 1.8 : 0.9),
          drawTicks: false
        },
        border: { display: false },
        ticks: {
          autoSkip: false,
          padding: 12,
          color: "#4D4D4D",
          font: { family: SERIF, size: 24.5 },
          callback: v => (yTickLabels.includes(v) ? String(v) : "")
        },
        title: {
          display: true,
          text: "Response times (ms)",
          color: "#000",
          font: { family: SERIF, size: 24.5 },
          padding: { top: 8, bottom: 0 }
        }
      }
    }
  },
  plugins: [violinBoxPlugin]
});
</script>
</body>
</html>
